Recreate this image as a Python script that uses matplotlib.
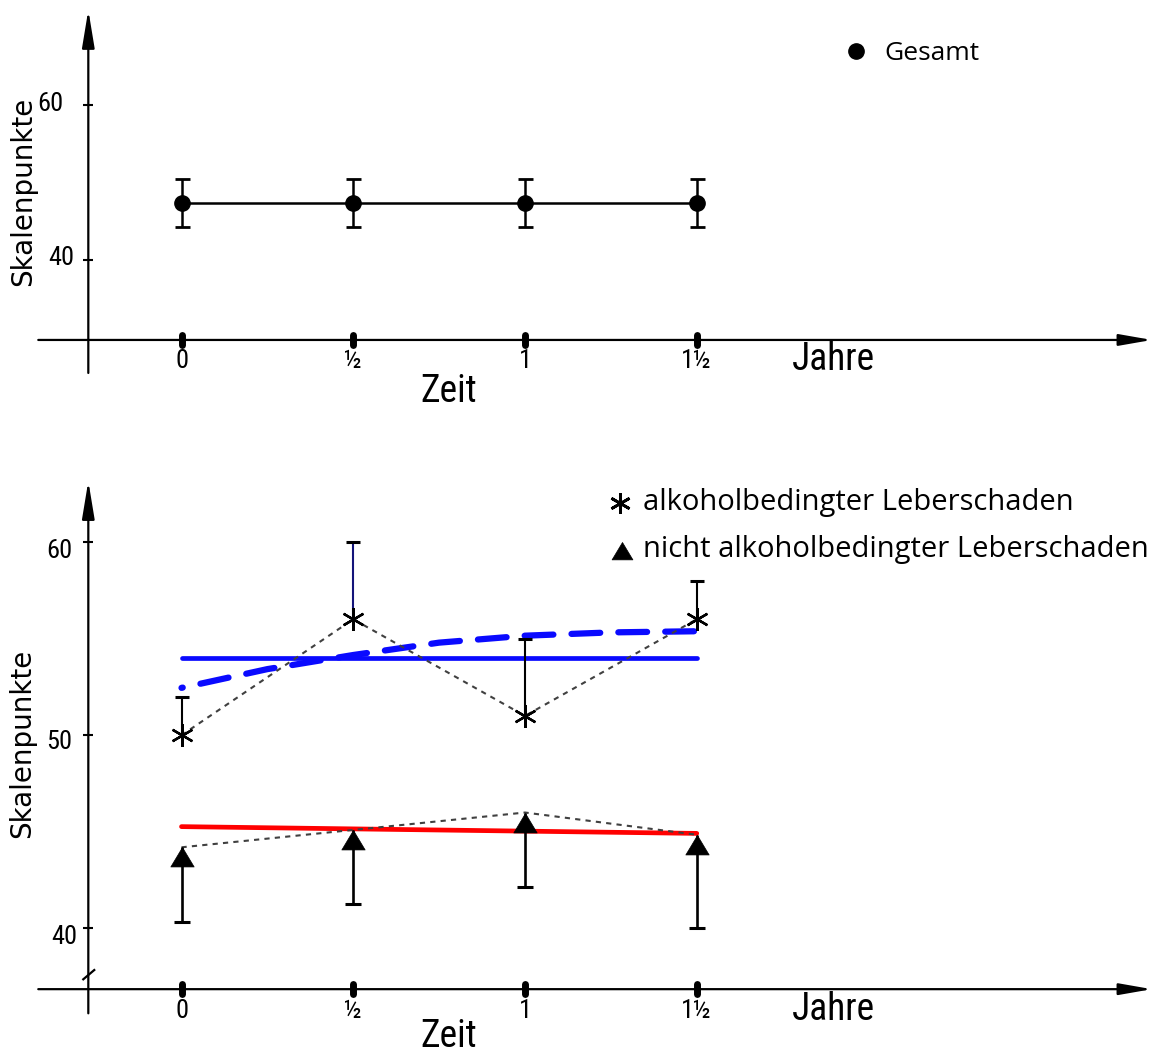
import matplotlib
matplotlib.use('Agg')
import matplotlib.pyplot as plt
from matplotlib import font_manager
from matplotlib.markers import MarkerStyle
from matplotlib.path import Path

# Zeitpunkte (Jahre)
zeit = [0, 0.5, 1, 1.5]
zeit_labels = ['0', '½', '1', '1½']

# Gesamtgruppe: Mittelwert und Streuung
gesamt = [47.4, 47.4, 47.4, 47.4]
gesamt_err = [3.1, 3.1, 3.1, 3.1]

# alkoholbedingter Leberschaden: Mittelwert, Fehler nach oben
alk = [50.0, 56.0, 51.0, 56.0]
alk_err_oben = [2.0, 4.0, 4.0, 2.0]

# nicht alkoholbedingter Leberschaden: Mittelwert, Fehler nach unten
nicht_alk = [44.2, 45.1, 46.0, 44.85]
nicht_alk_err_unten = [3.85, 3.85, 3.85, 4.8]

# Anpassungen
fit_x = [0, 1.5]
alk_konst = [54.0, 54.0]
nicht_alk_linear = [45.27, 44.92]
alk_kurve_x = [0, 0.25, 0.5, 0.75, 1, 1.25, 1.5]
alk_kurve = [52.45, 53.42, 54.15, 54.79, 55.15, 55.32, 55.38]

have = {f.name for f in font_manager.fontManager.ttflist}
schmal = next((f for f in ('Liberation Sans Narrow', 'Roboto Condensed') if f in have), 'DejaVu Sans')
plt.rcParams['font.family'] = 'DejaVu Sans'

# Dreieck mit Spitze im Datenpunkt
dreieck = MarkerStyle(Path([(0, 0), (0.6, -1), (-0.6, -1), (0, 0)],
                           [Path.MOVETO, Path.LINETO, Path.LINETO, Path.CLOSEPOLY]))
stern = (6, 2, 0)
strich = MarkerStyle('|', capstyle='round')


def pfeil(ax, start, ende, laenge, breite):
    ax.annotate('', xy=ende, xytext=start,
                arrowprops=dict(arrowstyle=f'-|>,head_length={laenge},head_width={breite}',
                                mutation_scale=1, lw=1.6, color='black',
                                shrinkA=0, shrinkB=0))


def achsenkreuz(ax, x_achse, y_achse, y_unten, y_oben, yticks):
    pfeil(ax, (-0.417, x_achse), (2.825, x_achse), 20, 3.5)
    pfeil(ax, (y_achse, y_unten), (y_achse, y_oben), 23, 3.8)
    ax.plot(zeit, [x_achse] * 4, ls='none', marker=strich, ms=7, mew=5, color='black')
    ax.plot([y_achse] * len(yticks), yticks, ls='none', marker='_', ms=6.5, mew=1.5,
            color='black')


def fehler(ax, x, y0, y1, farbe='black', lw=1.5, kappe=10.0):
    ax.plot([x, x], [y0, y1], color=farbe, lw=lw, solid_capstyle='butt', zorder=3)
    ax.plot([x], [y1], marker='_', ms=kappe, mew=2.2, color='black', zorder=3)


fig = plt.figure(figsize=(11.55, 10.57), dpi=100)
ax1 = fig.add_axes([0, 637 / 1057, 1, 420 / 1057])
ax2 = fig.add_axes([0, 0, 1, 637 / 1057])
for ax in (ax1, ax2):
    ax.set_axis_off()
    ax.set_xlim(-0.5284, 2.8341)
ax1.set_ylim(19.35, 73.55)
ax2.set_ylim(33.35, 66.31)

# ---- oben: Gesamt ----
achsenkreuz(ax1, 29.68, -0.2713, 25.42, 72.26, [40, 60])
ax1.errorbar(zeit, gesamt, yerr=gesamt_err, fmt='-o', color='black', lw=1.8, ms=11,
             capsize=5.4, elinewidth=1.8, capthick=2.0)
ax1.text(-0.462, 48.9, 'Skalenpunkte', rotation=90, ha='center', va='center', fontsize=20)
ax1.text(-0.3435, 60.13, '60', ha='right', va='center', fontsize=19, family=schmal)
ax1.text(-0.313, 40.26, '40', ha='right', va='center', fontsize=19, family=schmal)
for x, lab in zip(zeit, zeit_labels):
    ax1.text(x, 26.97, lab, ha='center', va='center', fontsize=19, family=schmal)
ax1.text(1.897, 27.1, 'Jahre', ha='center', va='center', fontsize=27, family=schmal)
ax1.text(0.779, 23.03, 'Zeit', ha='center', va='center', fontsize=27, family=schmal)
ax1.plot([1.964], [67.03], 'o', color='black', ms=11)
ax1.text(2.045, 65.8, 'Gesamt', ha='left', va='baseline', fontsize=19, family='Open Sans')

# ---- unten: nach Ursache ----
achsenkreuz(ax2, 36.86, -0.2713, 35.61, 63.15, [40, 50, 60])
ax2.plot([-0.286, -0.254], [37.37, 37.85], color='black', lw=1.6)

ax2.plot(fit_x, alk_konst, color='#0a0aff', lw=3.4, solid_capstyle='round', zorder=2)
ax2.plot(alk_kurve_x, alk_kurve, color='#0a0aff', lw=4.5, dash_capstyle='round',
         linestyle=(4.4, (4.6, 2.9)), zorder=2)
ax2.plot(fit_x, nicht_alk_linear, color='#ff0000', lw=3.4, solid_capstyle='round', zorder=2)

ax2.plot(zeit, alk, color='#404040', lw=1.5, linestyle=(0, (2.5, 2.5)), zorder=2.5)
ax2.plot(zeit, nicht_alk, color='#404040', lw=1.5, linestyle=(0, (2.5, 2.5)), zorder=2.5)

for i, (x, y, e) in enumerate(zip(zeit, alk, alk_err_oben)):
    fehler(ax2, x, y, y + e, farbe='#14147a' if i == 1 else 'black')
for x, y, e in zip(zeit, nicht_alk, nicht_alk_err_unten):
    fehler(ax2, x, y, y - e, lw=1.9, kappe=11.5)

ax2.plot(zeit, alk, ls='none', marker=stern, ms=16.5, mew=1.7, color='black', zorder=4)
ax2.plot(zeit, nicht_alk, ls='none', marker=dreieck, ms=28, mew=0.5, color='black', zorder=4)

ax2.text(-0.463, 49.6, 'Skalenpunkte', rotation=90, ha='center', va='center', fontsize=20)
ax2.text(-0.319, 59.53, '60', ha='right', va='center', fontsize=19, family=schmal)
ax2.text(-0.319, 49.65, '50', ha='right', va='center', fontsize=19, family=schmal)
ax2.text(-0.304, 39.57, '40', ha='right', va='center', fontsize=19, family=schmal)
for x, lab in zip(zeit, zeit_labels):
    ax2.text(x, 35.73, lab, ha='center', va='center', fontsize=19, family=schmal)
ax2.text(1.897, 35.79, 'Jahre', ha='center', va='center', fontsize=27, family=schmal)
ax2.text(0.779, 33.87, 'Zeit', ha='center', va='baseline', fontsize=27, family=schmal)

ax2.plot([1.2766], [62.0], ls='none', marker=stern, ms=15, mew=2.0, color='black')
ax2.text(1.3435, 61.65, 'alkoholbedingter Leberschaden', ha='left', va='baseline',
         fontsize=21, family='Open Sans')
ax2.plot([1.2815], [60.02], ls='none', marker=dreieck, ms=25, mew=0.5, color='black')
ax2.text(1.3435, 59.2, 'nicht alkoholbedingter Leberschaden', ha='left', va='baseline',
         fontsize=21, family='Open Sans')

fig.savefig('out.png', dpi=100, facecolor='white')
